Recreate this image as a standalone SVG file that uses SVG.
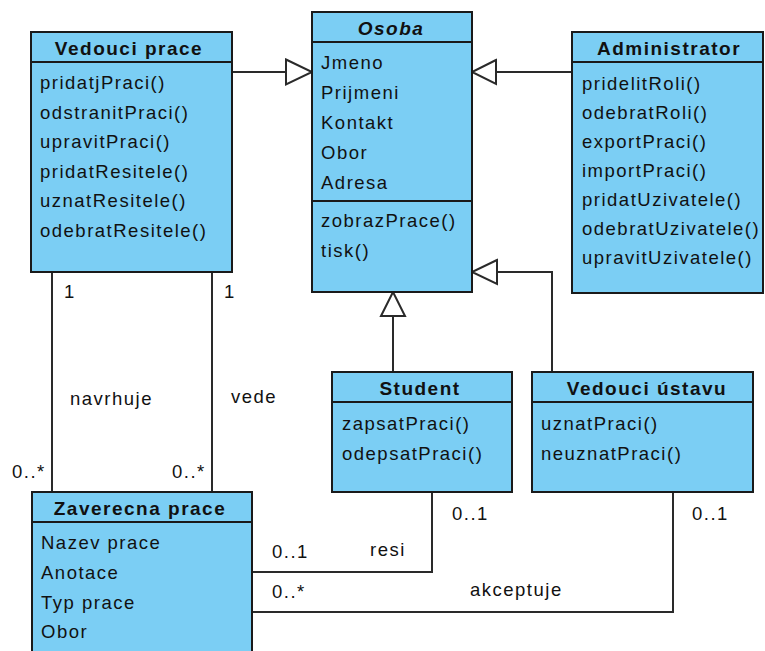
<svg xmlns="http://www.w3.org/2000/svg" width="765" height="651" viewBox="0 0 765 651">
  <style>
    .box { fill: #7BCEF4; stroke: #1a1a1a; stroke-width: 2; }
    .sep { stroke: #1a1a1a; stroke-width: 2; }
    .title { font-family: "Liberation Sans", Arial, sans-serif; font-size: 19px; font-weight: bold; letter-spacing: 1.5px; fill: #111; text-anchor: middle; }
    .item { font-family: "Liberation Sans", Arial, sans-serif; font-size: 18.5px; letter-spacing: 1.5px; fill: #111; }
    .lbl { font-family: "Liberation Sans", Arial, sans-serif; font-size: 18.5px; letter-spacing: 1.5px; fill: #111; }
    .line { fill: none; stroke: #2a2a2a; stroke-width: 2; }
    .tri { fill: #ffffff; stroke: #2a2a2a; stroke-width: 2; stroke-linejoin: miter; }
  </style>
  <rect width="765" height="651" fill="#ffffff"/>

  <!-- connectors -->
  <g id="connectors">
    <!-- generalisations to Osoba -->
    <path class="line" d="M232 72 H286"/>
    <polygon class="tri" points="286,59.5 312,72 286,84.5"/>
    <path class="line" d="M571 72 H496"/>
    <polygon class="tri" points="496,60 472,72 496,84"/>
    <path class="line" d="M393 372 V316"/>
    <polygon class="tri" points="381,316 393,292 405,316"/>
    <path class="line" d="M552 372 V272 H497"/>
    <polygon class="tri" points="497,260 472,272 497,284"/>
    <!-- associations -->
    <path class="line" d="M52 272 V492"/>
    <path class="line" d="M212 272 V492"/>
    <path class="line" d="M432 492 V572 H252"/>
    <path class="line" d="M673 492 V612 H252"/>
    <!-- association labels -->
    <text class="lbl" x="64" y="298">1</text>
    <text class="lbl" x="224" y="298">1</text>
    <text class="lbl" x="70" y="405">navrhuje</text>
    <text class="lbl" x="231" y="403">vede</text>
    <text class="lbl" x="12" y="478">0..*</text>
    <text class="lbl" x="172" y="478">0..*</text>
    <text class="lbl" x="272" y="558">0..1</text>
    <text class="lbl" x="370" y="556">resi</text>
    <text class="lbl" x="272" y="598">0..*</text>
    <text class="lbl" x="470" y="596">akceptuje</text>
    <text class="lbl" x="452" y="520">0..1</text>
    <text class="lbl" x="692" y="520">0..1</text>
  </g>

  <!-- Vedouci prace -->
  <g id="vedouci-prace">
    <rect class="box" x="31" y="32" width="201" height="240"/>
    <line class="sep" x1="31" y1="62" x2="232" y2="62"/>
    <text class="title" x="129" y="55">Vedouci prace</text>
    <text class="item" x="40" y="89">pridatjPraci()</text>
    <text class="item" x="40" y="118.5">odstranitPraci()</text>
    <text class="item" x="40" y="148">upravitPraci()</text>
    <text class="item" x="40" y="177.5">pridatResitele()</text>
    <text class="item" x="40" y="207">uznatResitele()</text>
    <text class="item" x="40" y="236.5">odebratResitele()</text>
  </g>

  <!-- Osoba -->
  <g id="osoba">
    <rect class="box" x="312" y="12" width="160" height="280"/>
    <line class="sep" x1="312" y1="42" x2="472" y2="42"/>
    <line class="sep" x1="312" y1="201" x2="472" y2="201"/>
    <text class="title" x="391" y="35" font-style="italic">Osoba</text>
    <text class="item" x="321" y="68.5">Jmeno</text>
    <text class="item" x="321" y="98.5">Prijmeni</text>
    <text class="item" x="321" y="128.5">Kontakt</text>
    <text class="item" x="321" y="158.5">Obor</text>
    <text class="item" x="321" y="188.5">Adresa</text>
    <text class="item" x="321" y="227">zobrazPrace()</text>
    <text class="item" x="321" y="257">tisk()</text>
  </g>

  <!-- Administrator -->
  <g id="administrator">
    <rect class="box" x="572" y="32" width="191" height="261"/>
    <line class="sep" x1="572" y1="62" x2="763" y2="62"/>
    <text class="title" x="669" y="55">Administrator</text>
    <text class="item" x="582" y="90">pridelitRoli()</text>
    <text class="item" x="582" y="119">odebratRoli()</text>
    <text class="item" x="582" y="148">exportPraci()</text>
    <text class="item" x="582" y="177">importPraci()</text>
    <text class="item" x="582" y="206">pridatUzivatele()</text>
    <text class="item" x="582" y="235">odebratUzivatele()</text>
    <text class="item" x="582" y="264">upravitUzivatele()</text>
  </g>

  <!-- Student -->
  <g id="student">
    <rect class="box" x="332" y="372" width="180" height="120"/>
    <line class="sep" x1="332" y1="402" x2="512" y2="402"/>
    <text class="title" x="420" y="395">Student</text>
    <text class="item" x="342" y="430">zapsatPraci()</text>
    <text class="item" x="342" y="460">odepsatPraci()</text>
  </g>

  <!-- Vedouci ustavu -->
  <g id="vedouci-ustavu">
    <rect class="box" x="532" y="372" width="221" height="120"/>
    <line class="sep" x1="532" y1="402" x2="753" y2="402"/>
    <text class="title" x="647" y="395">Vedouci ústavu</text>
    <text class="item" x="541" y="430">uznatPraci()</text>
    <text class="item" x="541" y="460">neuznatPraci()</text>
  </g>

  <!-- Zaverecna prace -->
  <g id="zaverecna-prace">
    <rect class="box" x="32" y="492" width="220" height="175"/>
    <line class="sep" x1="32" y1="522" x2="252" y2="522"/>
    <text class="title" x="140" y="515">Zaverecna prace</text>
    <text class="item" x="41" y="549">Nazev prace</text>
    <text class="item" x="41" y="579">Anotace</text>
    <text class="item" x="41" y="609">Typ prace</text>
    <text class="item" x="41" y="638">Obor</text>
  </g>
</svg>
